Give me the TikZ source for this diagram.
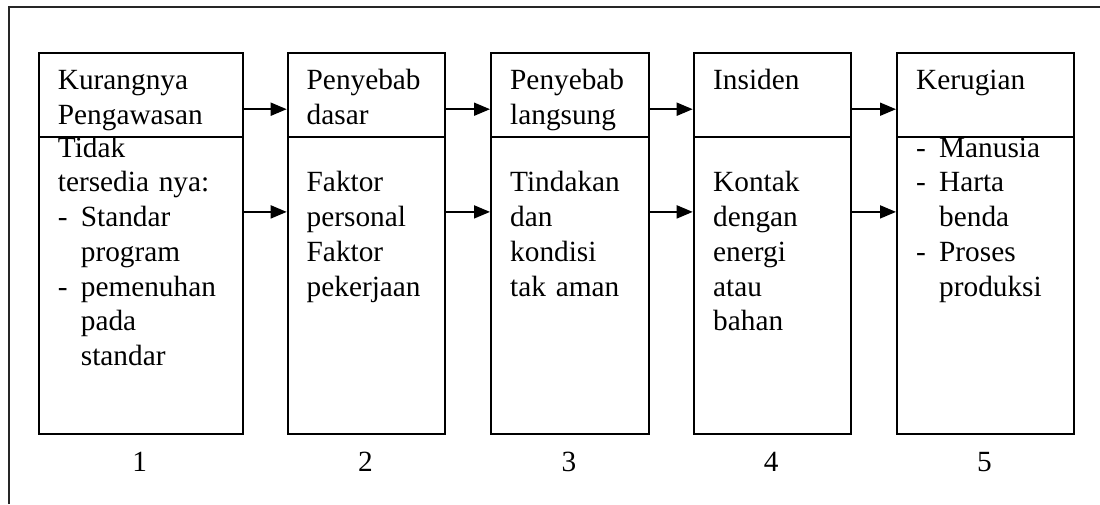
\documentclass[tikz,border=0pt]{standalone}
\usepackage{fontspec}
\setmainfont{Liberation Serif}
\usetikzlibrary{arrows.meta}
\newcommand\dashitem{\makebox[23pt][l]{-}}
\newcommand\hangind{\hspace*{23pt}}
\begin{document}
\begin{tikzpicture}[x=1pt,y=-1pt,
  boxpart/.style={draw, line width=1.8pt, inner sep=0pt, anchor=north west},
  hdr/.style={boxpart, minimum height=84.3pt},
  bdy/.style={boxpart, minimum height=297.3pt},
  txt/.style={inner sep=0pt, anchor=base west, text width=180pt, align=left,
              font=\fontsize{29.3}{34.75}\selectfont},
  num/.style={inner sep=0pt, anchor=base, font=\fontsize{29.3}{34.75}\selectfont},
  arr/.style={line width=1.8pt, -{Triangle[length=16pt,width=13pt]}},
  frame/.style={line width=1.5pt, draw=black!85}]
\useasboundingbox (0,0) rectangle (1100,504);
% outer frame (right and bottom sides lie outside the picture)
\coordinate (f1) at (9,504);
\coordinate (f2) at (9,7);
\coordinate (f3) at (1100,7);
\draw[frame] (f1) -- (f2) -- (f3);

% column boxes
\node[hdr, minimum width=204pt]   (h1) at (37.7,51.7) {};
\node[bdy, minimum width=204pt]   (b1) at (37.7,136) {};
\node[hdr, minimum width=157.6pt] (h2) at (286.7,51.7) {};
\node[bdy, minimum width=157.6pt] (b2) at (286.7,136) {};
\node[hdr, minimum width=157.7pt] (h3) at (490,51.7) {};
\node[bdy, minimum width=157.7pt] (b3) at (490,136) {};
\node[hdr, minimum width=157.3pt] (h4) at (692.7,51.7) {};
\node[bdy, minimum width=157.3pt] (b4) at (692.7,136) {};
\node[hdr, minimum width=176.7pt] (h5) at (896,51.7) {};
\node[bdy, minimum width=176.7pt] (b5) at (896,136) {};

% header texts
\node[txt] (th1) at (57.7,89.3) {Kurangnya\\Pengawasan};
\node[txt] (th2) at (306.5,89.3) {Penyebab\\dasar};
\node[txt] (th3) at (510,89.3) {Penyebab\\langsung};
\node[txt] (th4) at (713,89.3) {Insiden};
\node[txt] (th5) at (916,89.3) {Kerugian};

% body texts
\node[txt] (tb1) at (57.7,157) {Tidak\\tersedia nya:\\\dashitem Standar\\\hangind program\\\dashitem pemenuhan\\\hangind pada\\\hangind standar};
\node[txt] (tb2) at (306.5,191.8) {Faktor\\personal\\Faktor\\pekerjaan};
\node[txt] (tb3) at (510,191.8) {Tindakan\\dan\\kondisi\\tak aman};
\node[txt] (tb4) at (713,191.8) {Kontak\\dengan\\energi\\atau\\bahan};
\node[txt] (tb5) at (916,157) {\dashitem Manusia\\\dashitem Harta\\\hangind benda\\\dashitem Proses\\\hangind produksi};

% numbers
\node[num] (n1) at (139.7,471.7) {1};
\node[num] (n2) at (365.5,471.7) {2};
\node[num] (n3) at (568.9,471.7) {3};
\node[num] (n4) at (771.3,471.7) {4};
\node[num] (n5) at (984.4,471.7) {5};

% arrows
\foreach \a/\b in {1/2,2/3,3/4,4/5}{
  \draw[arr] ([yshift=-14.45pt]h\a.east) -- ([yshift=-14.45pt]h\b.west);
  \draw[arr] ([yshift=73.65pt]b\a.east) -- ([yshift=73.65pt]b\b.west);
}
\end{tikzpicture}
\end{document}
